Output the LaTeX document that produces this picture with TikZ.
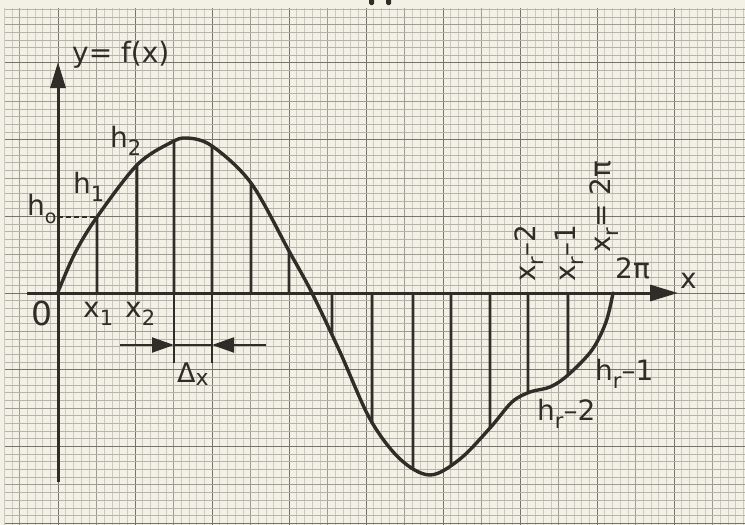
\documentclass[tikz,border=0pt]{standalone}
\usepackage{fontspec}
\setmainfont{DejaVu Sans}
\usetikzlibrary{arrows.meta,intersections}
\definecolor{paper}{RGB}{243,241,229}
\definecolor{ink}{RGB}{48,44,40}
\definecolor{gminorv}{RGB}{205,203,193}
\definecolor{gminorh}{RGB}{182,180,170}
\definecolor{gmidc}{RGB}{158,156,146}
\definecolor{gmajorc}{RGB}{118,116,108}
\newcommand\lab{\fontsize{28}{30}\selectfont}
\newcommand\lsub[1]{\raisebox{-0.32em}{\fontsize{21}{22}\selectfont #1}}
\begin{document}
\begin{tikzpicture}[x=1pt,y=-1pt,
  gminorV/.style={gminorv,line width=0.45pt},
  gminorH/.style={gminorh,line width=0.5pt},
  gmid/.style={gmidc,line width=0.6pt},
  gmajor/.style={gmajorc,line width=0.85pt},
  axis/.style={ink,line width=3pt},
  ordinate/.style={ink,line width=2.7pt},
  curve/.style={ink,line width=3.4pt,line join=round,line cap=round},
  lbl/.style={text=ink,inner sep=0pt,font=\lab}]
\useasboundingbox (0,0) rectangle (745,525);
\fill[paper] (0,0) rectangle (745,525);
% graph paper
\foreach \k in {-7,...,89}{
  \pgfmathsetmacro\gx{58+7.7*\k}
  \pgfmathtruncatemacro\m{mod(abs(\k),10)}
  \ifnum\m=0\relax \draw[gmajor] (\gx,8)--(\gx,525);
  \else\ifnum\m=5\relax \draw[gmid] (\gx,8)--(\gx,525);
  \else \draw[gminorV] (\gx,8)--(\gx,525);\fi\fi
}
\foreach \k in {-37,...,30}{
  \pgfmathsetmacro\gy{293+7.67*\k}
  \pgfmathtruncatemacro\m{mod(abs(\k),10)}
  \ifnum\m=0\relax \draw[gmajor] (5,\gy)--(745,\gy);
  \else\ifnum\m=5\relax \draw[gmid] (5,\gy)--(745,\gy);
  \else \draw[gminorH] (5,\gy)--(745,\gy);\fi\fi
}
% cut-off glyph at the top edge
\fill[ink,rounded corners=1.5pt] (369,-3) rectangle (374,5);
\fill[ink,rounded corners=1.5pt] (386,-3) rectangle (391,5);
% curve path
\def\fpts{(58,292) (75,253) (97,217) (137,165) (170,143) (187,138) (212,146) (251,183) (289,251) (312,293) (340,352) (370,419) (400,459) (430,475) (460,459) (490,428) (512,402) (530,392) (550,387) (568,375) (592,350) (606,322) (613,293)}
\path[name path=fcurve] plot[smooth,tension=0.55] coordinates {\fpts};
% ordinates
\foreach \x in {97,137,174,212,251,289,332,372,413,451,490,528,568}{
  \path[name path=vline] (\x,100) -- (\x,495);
  \path[name intersections={of=fcurve and vline,by=hp}];
  \draw[ordinate] (\x,293) -- (hp);
}
% h0 dashed
\path[name path=vone] (97,100) -- (97,290);
\path[name intersections={of=fcurve and vone,by=hzero}];
\coordinate (yax) at (58,0);
\draw[ink,line width=1.4pt,dash pattern=on 5pt off 3pt] (yax |- hzero) -- (hzero);
% curve
\draw[curve] plot[smooth,tension=0.55] coordinates {\fpts};
% axes
\draw[axis,-{Triangle[length=26pt,width=15pt]}] (58,482) -- (58,62);
\draw[axis,-{Triangle[length=28pt,width=16pt]}] (27,293) -- (678,293);
% delta x
\draw[ordinate,line width=2pt] (174,293) -- (174,363);
\draw[ordinate,line width=2pt] (212,293) -- (212,363);
\draw[ordinate,line width=2pt] (174,345) -- (212,345);
\draw[ordinate,line width=2pt,-{Triangle[length=22pt,width=15pt]}] (120,345) -- (174,345);
\draw[ordinate,line width=2pt,-{Triangle[length=22pt,width=15pt]}] (266,345) -- (212,345);
% labels
\node[lbl,anchor=base west] (yl) at (72,62) {y= f(x)};
\node[lbl,anchor=base west] (h2) at (110,147) {h\lsub{2}};
\node[lbl,anchor=base west] (h1) at (73,193) {h\lsub{1}};
\node[lbl,anchor=base west] (h0) at (27,215) {h\lsub{\fontsize{19}{19}\selectfont o}};
\node[lbl,anchor=base west,font=\fontsize{33}{35}\selectfont] (zero) at (31,325) {0};
\node[lbl,anchor=base west] (x1) at (83,317) {x\lsub{1}};
\node[lbl,anchor=base west] (x2) at (125,317) {x\lsub{2}};
\node[lbl,anchor=base west,font=\fontsize{27}{29}\selectfont] (dx) at (177,382) {Δ\raisebox{-0.12em}{\fontsize{22}{22}\selectfont x}};
\node[lbl,anchor=base west] (tp) at (615,278) {2π};
\node[lbl,anchor=base west] (xl) at (680,288) {x};
\node[lbl,anchor=base west] (hr1) at (595,380) {h\lsub{r}–1};
\node[lbl,anchor=base west] (hr2) at (537,420) {h\lsub{r}–2};
\node[lbl,anchor=base west,rotate=90] (xr2) at (535,282) {x\lsub{r}–2};
\node[lbl,anchor=base west,rotate=90] (xr1) at (575,282) {x\lsub{r}–1};
\node[lbl,anchor=base west,rotate=90] (xr) at (610,253) {x\lsub{r}= 2π};
\end{tikzpicture}
\end{document}
